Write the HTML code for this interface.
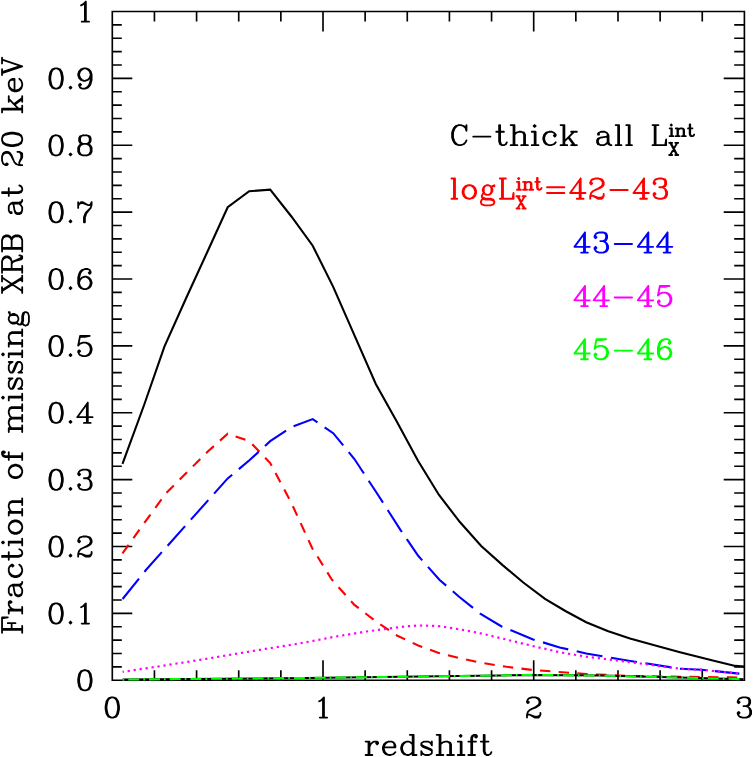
<!DOCTYPE html>
<html><head><meta charset="utf-8"><title>plot</title>
<style>html,body{margin:0;padding:0;background:#fff;font-family:"Liberation Sans",sans-serif}svg{display:block}</style></head>
<body>
<svg width="753" height="757" viewBox="0 0 753 757">
<rect width="753" height="757" fill="#fff"/>
<g fill="none" stroke-linejoin="miter" stroke-miterlimit="6">
<path d="M112.3 11.5H744.4V680.2H112.3Z" stroke="#000" stroke-width="1.65" stroke-linejoin="miter"/>
<path d="M154.44 680.2v-10M154.44 11.5v10M196.58 680.2v-10M196.58 11.5v10M238.72 680.2v-10M238.72 11.5v10M280.86 680.2v-10M280.86 11.5v10M323 680.2v-20M323 11.5v20M365.14 680.2v-10M365.14 11.5v10M407.28 680.2v-10M407.28 11.5v10M449.42 680.2v-10M449.42 11.5v10M491.56 680.2v-10M491.56 11.5v10M533.7 680.2v-20M533.7 11.5v20M575.84 680.2v-10M575.84 11.5v10M617.98 680.2v-10M617.98 11.5v10M660.12 680.2v-10M660.12 11.5v10M702.26 680.2v-10M702.26 11.5v10M112.3 666.83h9.5M744.4 666.83h-10.2M112.3 653.45h9.5M744.4 653.45h-10.2M112.3 640.08h9.5M744.4 640.08h-10.2M112.3 626.7h9.5M744.4 626.7h-10.2M112.3 613.33h20M744.4 613.33h-20.7M112.3 599.96h9.5M744.4 599.96h-10.2M112.3 586.58h9.5M744.4 586.58h-10.2M112.3 573.21h9.5M744.4 573.21h-10.2M112.3 559.83h9.5M744.4 559.83h-10.2M112.3 546.46h20M744.4 546.46h-20.7M112.3 533.09h9.5M744.4 533.09h-10.2M112.3 519.71h9.5M744.4 519.71h-10.2M112.3 506.34h9.5M744.4 506.34h-10.2M112.3 492.96h9.5M744.4 492.96h-10.2M112.3 479.59h20M744.4 479.59h-20.7M112.3 466.22h9.5M744.4 466.22h-10.2M112.3 452.84h9.5M744.4 452.84h-10.2M112.3 439.47h9.5M744.4 439.47h-10.2M112.3 426.09h9.5M744.4 426.09h-10.2M112.3 412.72h20M744.4 412.72h-20.7M112.3 399.35h9.5M744.4 399.35h-10.2M112.3 385.97h9.5M744.4 385.97h-10.2M112.3 372.6h9.5M744.4 372.6h-10.2M112.3 359.22h9.5M744.4 359.22h-10.2M112.3 345.85h20M744.4 345.85h-20.7M112.3 332.48h9.5M744.4 332.48h-10.2M112.3 319.1h9.5M744.4 319.1h-10.2M112.3 305.73h9.5M744.4 305.73h-10.2M112.3 292.35h9.5M744.4 292.35h-10.2M112.3 278.98h20M744.4 278.98h-20.7M112.3 265.61h9.5M744.4 265.61h-10.2M112.3 252.23h9.5M744.4 252.23h-10.2M112.3 238.86h9.5M744.4 238.86h-10.2M112.3 225.48h9.5M744.4 225.48h-10.2M112.3 212.11h20M744.4 212.11h-20.7M112.3 198.74h9.5M744.4 198.74h-10.2M112.3 185.36h9.5M744.4 185.36h-10.2M112.3 171.99h9.5M744.4 171.99h-10.2M112.3 158.61h9.5M744.4 158.61h-10.2M112.3 145.24h20M744.4 145.24h-20.7M112.3 131.87h9.5M744.4 131.87h-10.2M112.3 118.49h9.5M744.4 118.49h-10.2M112.3 105.12h9.5M744.4 105.12h-10.2M112.3 91.74h9.5M744.4 91.74h-10.2M112.3 78.37h20M744.4 78.37h-20.7M112.3 65h9.5M744.4 65h-10.2M112.3 51.62h9.5M744.4 51.62h-10.2M112.3 38.25h9.5M744.4 38.25h-10.2M112.3 24.87h9.5M744.4 24.87h-10.2" stroke="#000" stroke-width="1.65" stroke-linecap="butt"/>
<path d="M122.5 463.8L144.1 405L164.4 346.6L186.2 298L207.3 252L227.7 207.2L249.2 191.2L270.2 189.7L291.4 216.5L312.7 245.7L333.2 286.9L354.8 336.2L375.8 384L396.9 421.8L418 460.8L439 495L460.1 522.3L481.2 546L502.6 565.1L523.3 582.5L545 598.8L565.4 611L586.2 622.2L607.6 631L630 638.6L655.3 645.5L680 652.2L712.8 660.5L735.3 665.9L744.4 666.5" stroke="#000" stroke-width="2.1"/>
<path d="M122.5 553.3L144.5 522.7L165.8 493.5L187 472.3L207 452.3L227.7 433.7L249.4 441.2L270.2 463L291.4 503L312 547.8L331.9 579.7L354.4 604.9L377 622.2L396.9 635.5L418.2 645.5L438.1 652.7L459.4 658L480.6 662.7L506.6 666.8L533.1 670L586.2 674L628.7 675.9L680 676.8L731 677.4L744 677.6" stroke="#f00" stroke-width="2.1" stroke-dasharray="10.4 8.3" stroke-dashoffset="0"/>
<path d="M122.6 599L145.9 570L227.7 478.4L249.4 460.3L270.2 441.2L291.4 427.1L312.7 419.1L333.2 433.2L354.4 459L375.8 491.5L400.9 530.6L418.2 555.8L439.4 579.7L459.4 597L480.6 614L501.2 626.2L533.1 639.4L559.7 647.4L586.2 653.5L628.7 660.7L680 668.7L702.1 669.8L739.3 673.6" stroke="#00f" stroke-width="2.1" stroke-dasharray="26.2 8.7" stroke-dashoffset="0"/>
<path d="M122.6 671.9L163 665.7L200 659.9L260 649.8L300 643.4L334.5 636.8L366.4 631.5L387.6 628.7L406.2 626.3L419.5 625.5L438.1 626L459.4 629.3L480.6 633.3L506.6 639.6L533.1 646.1L559.7 652.2L586.2 656.7L628.7 662L680 668.7L702.1 669.8L739.3 673.6" stroke="#f0f" stroke-width="2.2" stroke-linecap="butt" stroke-dasharray="2.2 3.84" stroke-dashoffset="0.95"/>
<path d="M122.6 679.6L308 677.9L420 676.6L500 675.4L533 674.9L600 675.6L680 677.6L744 679.2" stroke="#000" stroke-width="2.0"/>
<path d="M122.6 679.6L308 677.9L420 676.6L500 675.4L533 674.9L600 675.6L680 677.6L744 679.2" stroke="#0f0" stroke-width="2.1" stroke-dasharray="1.7 4 11 4" stroke-dashoffset="0"/>
</g>
<path d="M83.94 670.24L81.06 671.2L79.14 674.08L78.18 678.88L78.18 681.76L79.14 686.56L81.06 689.44L83.94 690.4L85.86 690.4L88.74 689.44L90.66 686.56L91.62 681.76L91.62 678.88L90.66 674.08L88.74 671.2L85.86 670.24L83.94 670.24M83.94 670.24L82.02 671.2L81.06 672.16L80.1 674.08L79.14 678.88L79.14 681.76L80.1 686.56L81.06 688.48L82.02 689.44L83.94 690.4M85.86 690.4L87.78 689.44L88.74 688.48L89.7 686.56L90.66 681.76L90.66 678.88L89.7 674.08L88.74 672.16L87.78 671.2L85.86 670.24M55.14 603.37L52.26 604.33L50.34 607.21L49.38 612.01L49.38 614.89L50.34 619.69L52.26 622.57L55.14 623.53L57.06 623.53L59.94 622.57L61.86 619.69L62.82 614.89L62.82 612.01L61.86 607.21L59.94 604.33L57.06 603.37L55.14 603.37M55.14 603.37L53.22 604.33L52.26 605.29L51.3 607.21L50.34 612.01L50.34 614.89L51.3 619.69L52.26 621.61L53.22 622.57L55.14 623.53M57.06 623.53L58.98 622.57L59.94 621.61L60.9 619.69L61.86 614.89L61.86 612.01L60.9 607.21L59.94 605.29L58.98 604.33L57.06 603.37M70.5 621.61L69.54 622.57L70.5 623.53L71.46 622.57L70.5 621.61M70.5 622.57L70.5 622.57M81.06 607.21L82.98 606.25L85.86 603.37L85.86 623.53M84.9 604.33L84.9 623.53M81.73 623.53L89.03 623.53M55.14 536.5L52.26 537.46L50.34 540.34L49.38 545.14L49.38 548.02L50.34 552.82L52.26 555.7L55.14 556.66L57.06 556.66L59.94 555.7L61.86 552.82L62.82 548.02L62.82 545.14L61.86 540.34L59.94 537.46L57.06 536.5L55.14 536.5M55.14 536.5L53.22 537.46L52.26 538.42L51.3 540.34L50.34 545.14L50.34 548.02L51.3 552.82L52.26 554.74L53.22 555.7L55.14 556.66M57.06 556.66L58.98 555.7L59.94 554.74L60.9 552.82L61.86 548.02L61.86 545.14L60.9 540.34L59.94 538.42L58.98 537.46L57.06 536.5M70.5 554.74L69.54 555.7L70.5 556.66L71.46 555.7L70.5 554.74M70.5 555.7L70.5 555.7M79.14 540.34L80.1 541.3L79.14 542.26L78.18 541.3L78.18 540.34L79.14 538.42L80.1 537.46L82.98 536.5L86.82 536.5L89.7 537.46L90.66 538.42L91.62 540.34L91.62 542.26L90.66 544.18L87.78 546.1L82.98 548.02L81.06 548.98L79.14 550.9L78.18 553.78L78.18 556.66M86.82 536.5L88.74 537.46L89.7 538.42L90.66 540.34L90.66 542.26L89.7 544.18L86.82 546.1L82.98 548.02M78.18 554.74L79.14 553.78L81.06 553.78L85.86 555.7L88.74 555.7L90.66 554.74L91.62 553.78M81.06 553.78L85.86 556.66L89.7 556.66L90.66 555.7L91.62 553.78L91.62 551.86M55.14 469.63L52.26 470.59L50.34 473.47L49.38 478.27L49.38 481.15L50.34 485.95L52.26 488.83L55.14 489.79L57.06 489.79L59.94 488.83L61.86 485.95L62.82 481.15L62.82 478.27L61.86 473.47L59.94 470.59L57.06 469.63L55.14 469.63M55.14 469.63L53.22 470.59L52.26 471.55L51.3 473.47L50.34 478.27L50.34 481.15L51.3 485.95L52.26 487.87L53.22 488.83L55.14 489.79M57.06 489.79L58.98 488.83L59.94 487.87L60.9 485.95L61.86 481.15L61.86 478.27L60.9 473.47L59.94 471.55L58.98 470.59L57.06 469.63M70.5 487.87L69.54 488.83L70.5 489.79L71.46 488.83L70.5 487.87M70.5 488.83L70.5 488.83M79.14 473.47L80.1 474.43L79.14 475.39L78.18 474.43L78.18 473.47L79.14 471.55L80.1 470.59L82.98 469.63L86.82 469.63L89.7 470.59L90.66 472.51L90.66 475.39L89.7 477.31L86.82 478.27L83.94 478.27M86.82 469.63L88.74 470.59L89.7 472.51L89.7 475.39L88.74 477.31L86.82 478.27M86.82 478.27L88.74 479.23L90.66 481.15L91.62 483.07L91.62 485.95L90.66 487.87L89.7 488.83L86.82 489.79L82.98 489.79L80.1 488.83L79.14 487.87L78.18 485.95L78.18 484.99L79.14 484.03L80.1 484.99L79.14 485.95M89.7 480.19L90.66 483.07L90.66 485.95L89.7 487.87L88.74 488.83L86.82 489.79M55.14 402.76L52.26 403.72L50.34 406.6L49.38 411.4L49.38 414.28L50.34 419.08L52.26 421.96L55.14 422.92L57.06 422.92L59.94 421.96L61.86 419.08L62.82 414.28L62.82 411.4L61.86 406.6L59.94 403.72L57.06 402.76L55.14 402.76M55.14 402.76L53.22 403.72L52.26 404.68L51.3 406.6L50.34 411.4L50.34 414.28L51.3 419.08L52.26 421L53.22 421.96L55.14 422.92M57.06 422.92L58.98 421.96L59.94 421L60.9 419.08L61.86 414.28L61.86 411.4L60.9 406.6L59.94 404.68L58.98 403.72L57.06 402.76M70.5 421L69.54 421.96L70.5 422.92L71.46 421.96L70.5 421M70.5 421.96L70.5 421.96M86.82 404.68L86.82 422.92M87.78 402.76L87.78 422.92M87.78 402.76L77.22 417.16L92.58 417.16M83.94 422.92L90.66 422.92M55.14 335.89L52.26 336.85L50.34 339.73L49.38 344.53L49.38 347.41L50.34 352.21L52.26 355.09L55.14 356.05L57.06 356.05L59.94 355.09L61.86 352.21L62.82 347.41L62.82 344.53L61.86 339.73L59.94 336.85L57.06 335.89L55.14 335.89M55.14 335.89L53.22 336.85L52.26 337.81L51.3 339.73L50.34 344.53L50.34 347.41L51.3 352.21L52.26 354.13L53.22 355.09L55.14 356.05M57.06 356.05L58.98 355.09L59.94 354.13L60.9 352.21L61.86 347.41L61.86 344.53L60.9 339.73L59.94 337.81L58.98 336.85L57.06 335.89M70.5 354.13L69.54 355.09L70.5 356.05L71.46 355.09L70.5 354.13M70.5 355.09L70.5 355.09M80.1 335.89L78.18 345.49M78.18 345.49L80.1 343.57L82.98 342.61L85.86 342.61L88.74 343.57L90.66 345.49L91.62 348.37L91.62 350.29L90.66 353.17L88.74 355.09L85.86 356.05L82.98 356.05L80.1 355.09L79.14 354.13L78.18 352.21L78.18 351.25L79.14 350.29L80.1 351.25L79.14 352.21M85.86 342.61L87.78 343.57L89.7 345.49L90.66 348.37L90.66 350.29L89.7 353.17L87.78 355.09L85.86 356.05M80.1 335.89L89.7 335.89M80.1 336.85L84.9 336.85L89.7 335.89M55.14 269.02L52.26 269.98L50.34 272.86L49.38 277.66L49.38 280.54L50.34 285.34L52.26 288.22L55.14 289.18L57.06 289.18L59.94 288.22L61.86 285.34L62.82 280.54L62.82 277.66L61.86 272.86L59.94 269.98L57.06 269.02L55.14 269.02M55.14 269.02L53.22 269.98L52.26 270.94L51.3 272.86L50.34 277.66L50.34 280.54L51.3 285.34L52.26 287.26L53.22 288.22L55.14 289.18M57.06 289.18L58.98 288.22L59.94 287.26L60.9 285.34L61.86 280.54L61.86 277.66L60.9 272.86L59.94 270.94L58.98 269.98L57.06 269.02M70.5 287.26L69.54 288.22L70.5 289.18L71.46 288.22L70.5 287.26M70.5 288.22L70.5 288.22M89.7 271.9L88.74 272.86L89.7 273.82L90.66 272.86L90.66 271.9L89.7 269.98L87.78 269.02L84.9 269.02L82.02 269.98L80.1 271.9L79.14 273.82L78.18 277.66L78.18 283.42L79.14 286.3L81.06 288.22L83.94 289.18L85.86 289.18L88.74 288.22L90.66 286.3L91.62 283.42L91.62 282.46L90.66 279.58L88.74 277.66L85.86 276.7L84.9 276.7L82.02 277.66L80.1 279.58L79.14 282.46M84.9 269.02L82.98 269.98L81.06 271.9L80.1 273.82L79.14 277.66L79.14 283.42L80.1 286.3L82.02 288.22L83.94 289.18M85.86 289.18L87.78 288.22L89.7 286.3L90.66 283.42L90.66 282.46L89.7 279.58L87.78 277.66L85.86 276.7M55.14 202.15L52.26 203.11L50.34 205.99L49.38 210.79L49.38 213.67L50.34 218.47L52.26 221.35L55.14 222.31L57.06 222.31L59.94 221.35L61.86 218.47L62.82 213.67L62.82 210.79L61.86 205.99L59.94 203.11L57.06 202.15L55.14 202.15M55.14 202.15L53.22 203.11L52.26 204.07L51.3 205.99L50.34 210.79L50.34 213.67L51.3 218.47L52.26 220.39L53.22 221.35L55.14 222.31M57.06 222.31L58.98 221.35L59.94 220.39L60.9 218.47L61.86 213.67L61.86 210.79L60.9 205.99L59.94 204.07L58.98 203.11L57.06 202.15M70.5 220.39L69.54 221.35L70.5 222.31L71.46 221.35L70.5 220.39M70.5 221.35L70.5 221.35M78.18 202.15L78.18 207.91M78.18 205.99L79.14 204.07L81.06 202.15L82.98 202.15L87.78 205.03L89.7 205.03L90.66 204.07L91.62 202.15M79.14 204.07L81.06 203.11L82.98 203.11L87.78 205.03M91.62 202.15L91.62 205.03L90.66 207.91L86.82 212.71L85.86 214.63L84.9 217.51L84.9 222.31M90.66 207.91L85.86 212.71L84.9 214.63L83.94 217.51L83.94 222.31M55.14 135.28L52.26 136.24L50.34 139.12L49.38 143.92L49.38 146.8L50.34 151.6L52.26 154.48L55.14 155.44L57.06 155.44L59.94 154.48L61.86 151.6L62.82 146.8L62.82 143.92L61.86 139.12L59.94 136.24L57.06 135.28L55.14 135.28M55.14 135.28L53.22 136.24L52.26 137.2L51.3 139.12L50.34 143.92L50.34 146.8L51.3 151.6L52.26 153.52L53.22 154.48L55.14 155.44M57.06 155.44L58.98 154.48L59.94 153.52L60.9 151.6L61.86 146.8L61.86 143.92L60.9 139.12L59.94 137.2L58.98 136.24L57.06 135.28M70.5 153.52L69.54 154.48L70.5 155.44L71.46 154.48L70.5 153.52M70.5 154.48L70.5 154.48M82.98 135.28L80.1 136.24L79.14 138.16L79.14 141.04L80.1 142.96L82.98 143.92L86.82 143.92L89.7 142.96L90.66 141.04L90.66 138.16L89.7 136.24L86.82 135.28L82.98 135.28M82.98 135.28L81.06 136.24L80.1 138.16L80.1 141.04L81.06 142.96L82.98 143.92M86.82 143.92L88.74 142.96L89.7 141.04L89.7 138.16L88.74 136.24L86.82 135.28M82.98 143.92L80.1 144.88L79.14 145.84L78.18 147.76L78.18 151.6L79.14 153.52L80.1 154.48L82.98 155.44L86.82 155.44L89.7 154.48L90.66 153.52L91.62 151.6L91.62 147.76L90.66 145.84L89.7 144.88L86.82 143.92M82.98 143.92L81.06 144.88L80.1 145.84L79.14 147.76L79.14 151.6L80.1 153.52L81.06 154.48L82.98 155.44M86.82 155.44L88.74 154.48L89.7 153.52L90.66 151.6L90.66 147.76L89.7 145.84L88.74 144.88L86.82 143.92M55.14 68.41L52.26 69.37L50.34 72.25L49.38 77.05L49.38 79.93L50.34 84.73L52.26 87.61L55.14 88.57L57.06 88.57L59.94 87.61L61.86 84.73L62.82 79.93L62.82 77.05L61.86 72.25L59.94 69.37L57.06 68.41L55.14 68.41M55.14 68.41L53.22 69.37L52.26 70.33L51.3 72.25L50.34 77.05L50.34 79.93L51.3 84.73L52.26 86.65L53.22 87.61L55.14 88.57M57.06 88.57L58.98 87.61L59.94 86.65L60.9 84.73L61.86 79.93L61.86 77.05L60.9 72.25L59.94 70.33L58.98 69.37L57.06 68.41M70.5 86.65L69.54 87.61L70.5 88.57L71.46 87.61L70.5 86.65M70.5 87.61L70.5 87.61M90.66 75.13L89.7 78.01L87.78 79.93L84.9 80.89L83.94 80.89L81.06 79.93L79.14 78.01L78.18 75.13L78.18 74.17L79.14 71.29L81.06 69.37L83.94 68.41L85.86 68.41L88.74 69.37L90.66 71.29L91.62 74.17L91.62 79.93L90.66 83.77L89.7 85.69L87.78 87.61L84.9 88.57L82.02 88.57L80.1 87.61L79.14 85.69L79.14 84.73L80.1 83.77L81.06 84.73L80.1 85.69M83.94 80.89L82.02 79.93L80.1 78.01L79.14 75.13L79.14 74.17L80.1 71.29L82.02 69.37L83.94 68.41M85.86 68.41L87.78 69.37L89.7 71.29L90.66 74.17L90.66 79.93L89.7 83.77L88.74 85.69L86.82 87.61L84.9 88.57M81.06 5.38L82.98 4.42L85.86 1.54L85.86 21.7M84.9 2.5L84.9 21.7M81.73 21.7L89.03 21.7M111.34 697.44L108.46 698.4L106.54 701.28L105.58 706.08L105.58 708.96L106.54 713.76L108.46 716.64L111.34 717.6L113.26 717.6L116.14 716.64L118.06 713.76L119.02 708.96L119.02 706.08L118.06 701.28L116.14 698.4L113.26 697.44L111.34 697.44M111.34 697.44L109.42 698.4L108.46 699.36L107.5 701.28L106.54 706.08L106.54 708.96L107.5 713.76L108.46 715.68L109.42 716.64L111.34 717.6M113.26 717.6L115.18 716.64L116.14 715.68L117.1 713.76L118.06 708.96L118.06 706.08L117.1 701.28L116.14 699.36L115.18 698.4L113.26 697.44M319.16 701.28L321.08 700.32L323.96 697.44L323.96 717.6M323 698.4L323 717.6M319.83 717.6L327.13 717.6M527.94 701.28L528.9 702.24L527.94 703.2L526.98 702.24L526.98 701.28L527.94 699.36L528.9 698.4L531.78 697.44L535.62 697.44L538.5 698.4L539.46 699.36L540.42 701.28L540.42 703.2L539.46 705.12L536.58 707.04L531.78 708.96L529.86 709.92L527.94 711.84L526.98 714.72L526.98 717.6M535.62 697.44L537.54 698.4L538.5 699.36L539.46 701.28L539.46 703.2L538.5 705.12L535.62 707.04L531.78 708.96M526.98 715.68L527.94 714.72L529.86 714.72L534.66 716.64L537.54 716.64L539.46 715.68L540.42 714.72M529.86 714.72L534.66 717.6L538.5 717.6L539.46 716.64L540.42 714.72L540.42 712.8M738.64 701.28L739.6 702.24L738.64 703.2L737.68 702.24L737.68 701.28L738.64 699.36L739.6 698.4L742.48 697.44L746.32 697.44L749.2 698.4L750.16 700.32L750.16 703.2L749.2 705.12L746.32 706.08L743.44 706.08M746.32 697.44L748.24 698.4L749.2 700.32L749.2 703.2L748.24 705.12L746.32 706.08M746.32 706.08L748.24 707.04L750.16 708.96L751.12 710.88L751.12 713.76L750.16 715.68L749.2 716.64L746.32 717.6L742.48 717.6L739.6 716.64L738.64 715.68L737.68 713.76L737.68 712.8L738.64 711.84L739.6 712.8L738.64 713.76M749.2 708L750.16 710.88L750.16 713.76L749.2 715.68L748.24 716.64L746.32 717.6M368.5 741.56L368.5 755M369.46 741.56L369.46 755M369.46 747.32L370.42 744.44L372.34 742.52L374.26 741.56L377.14 741.56L378.1 742.52L378.1 743.48L377.14 744.44L376.18 743.48L377.14 742.52M365.62 741.56L369.46 741.56M365.62 755L372.34 755M383.86 747.32L395.38 747.32L395.38 745.4L394.42 743.48L393.46 742.52L391.54 741.56L388.66 741.56L385.78 742.52L383.86 744.44L382.9 747.32L382.9 749.24L383.86 752.12L385.78 754.04L388.66 755L390.58 755L393.46 754.04L395.38 752.12M394.42 747.32L394.42 744.44L393.46 742.52M388.66 741.56L386.74 742.52L384.82 744.44L383.86 747.32L383.86 749.24L384.82 752.12L386.74 754.04L388.66 755M412.66 734.84L412.66 755M413.62 734.84L413.62 755M412.66 744.44L410.74 742.52L408.82 741.56L406.9 741.56L404.02 742.52L402.1 744.44L401.14 747.32L401.14 749.24L402.1 752.12L404.02 754.04L406.9 755L408.82 755L410.74 754.04L412.66 752.12M406.9 741.56L404.98 742.52L403.06 744.44L402.1 747.32L402.1 749.24L403.06 752.12L404.98 754.04L406.9 755M409.78 734.84L413.62 734.84M412.66 755L416.5 755M430.9 743.48L431.86 741.56L431.86 745.4L430.9 743.48L429.94 742.52L428.02 741.56L424.18 741.56L422.26 742.52L421.3 743.48L421.3 745.4L422.26 746.36L424.18 747.32L428.98 749.24L430.9 750.2L431.86 751.16M421.3 744.44L422.26 745.4L424.18 746.36L428.98 748.28L430.9 749.24L431.86 750.2L431.86 753.08L430.9 754.04L428.98 755L425.14 755L423.22 754.04L422.26 753.08L421.3 751.16L421.3 755L422.26 753.08M439.54 734.84L439.54 755M440.5 734.84L440.5 755M440.5 744.44L442.42 742.52L445.3 741.56L447.22 741.56L450.1 742.52L451.06 744.44L451.06 755M447.22 741.56L449.14 742.52L450.1 744.44L450.1 755M436.66 734.84L440.5 734.84M436.66 755L443.38 755M447.22 755L453.94 755M460.66 734.84L459.7 735.8L460.66 736.76L461.62 735.8L460.66 734.84M460.66 741.56L460.66 755M461.62 741.56L461.62 755M457.78 741.56L461.62 741.56M457.78 755L464.5 755M476.02 735.8L475.06 736.76L476.02 737.72L476.98 736.76L476.98 735.8L476.02 734.84L474.1 734.84L472.18 735.8L471.22 737.72L471.22 755M474.1 734.84L473.14 735.8L472.18 737.72L472.18 755M468.34 741.56L476.02 741.56M468.34 755L475.06 755M483.7 734.84L483.7 751.16L484.66 754.04L486.58 755L488.5 755L490.42 754.04L491.38 752.12M484.66 734.84L484.66 751.16L485.62 754.04L486.58 755M480.82 741.56L488.5 741.56" fill="none" stroke="#000" stroke-width="1.8" stroke-linecap="round" stroke-linejoin="round"/>
<path transform="translate(22.2 345.7) rotate(-90)" d="M-284.16 -20.16L-284.16 0M-283.2 -20.16L-283.2 0M-277.44 -14.4L-277.44 -6.72M-287.04 -20.16L-271.68 -20.16L-271.68 -14.4L-272.64 -20.16M-283.2 -10.56L-277.44 -10.56M-287.04 0L-280.32 0M-264.96 -13.44L-264.96 0M-264 -13.44L-264 0M-264 -7.68L-263.04 -10.56L-261.12 -12.48L-259.2 -13.44L-256.32 -13.44L-255.36 -12.48L-255.36 -11.52L-256.32 -10.56L-257.28 -11.52L-256.32 -12.48M-267.84 -13.44L-264 -13.44M-267.84 0L-261.12 0M-248.64 -11.52L-248.64 -10.56L-249.6 -10.56L-249.6 -11.52L-248.64 -12.48L-246.72 -13.44L-242.88 -13.44L-240.96 -12.48L-240 -11.52L-239.04 -9.6L-239.04 -2.88L-238.08 -0.96L-237.12 0M-240 -11.52L-240 -2.88L-239.04 -0.96L-237.12 0L-236.16 0M-240 -9.6L-240.96 -8.64L-246.72 -7.68L-249.6 -6.72L-250.56 -4.8L-250.56 -2.88L-249.6 -0.96L-246.72 0L-243.84 0L-241.92 -0.96L-240 -2.88M-246.72 -7.68L-248.64 -6.72L-249.6 -4.8L-249.6 -2.88L-248.64 -0.96L-246.72 0M-219.84 -10.56L-220.8 -9.6L-219.84 -8.64L-218.88 -9.6L-218.88 -10.56L-220.8 -12.48L-222.72 -13.44L-225.6 -13.44L-228.48 -12.48L-230.4 -10.56L-231.36 -7.68L-231.36 -5.76L-230.4 -2.88L-228.48 -0.96L-225.6 0L-223.68 0L-220.8 -0.96L-218.88 -2.88M-225.6 -13.44L-227.52 -12.48L-229.44 -10.56L-230.4 -7.68L-230.4 -5.76L-229.44 -2.88L-227.52 -0.96L-225.6 0M-211.2 -20.16L-211.2 -3.84L-210.24 -0.96L-208.32 0L-206.4 0L-204.48 -0.96L-203.52 -2.88M-210.24 -20.16L-210.24 -3.84L-209.28 -0.96L-208.32 0M-214.08 -13.44L-206.4 -13.44M-196.8 -20.16L-197.76 -19.2L-196.8 -18.24L-195.84 -19.2L-196.8 -20.16M-196.8 -13.44L-196.8 0M-195.84 -13.44L-195.84 0M-199.68 -13.44L-195.84 -13.44M-199.68 0L-192.96 0M-182.4 -13.44L-185.28 -12.48L-187.2 -10.56L-188.16 -7.68L-188.16 -5.76L-187.2 -2.88L-185.28 -0.96L-182.4 0L-180.48 0L-177.6 -0.96L-175.68 -2.88L-174.72 -5.76L-174.72 -7.68L-175.68 -10.56L-177.6 -12.48L-180.48 -13.44L-182.4 -13.44M-182.4 -13.44L-184.32 -12.48L-186.24 -10.56L-187.2 -7.68L-187.2 -5.76L-186.24 -2.88L-184.32 -0.96L-182.4 0M-180.48 0L-178.56 -0.96L-176.64 -2.88L-175.68 -5.76L-175.68 -7.68L-176.64 -10.56L-178.56 -12.48L-180.48 -13.44M-167.04 -13.44L-167.04 0M-166.08 -13.44L-166.08 0M-166.08 -10.56L-164.16 -12.48L-161.28 -13.44L-159.36 -13.44L-156.48 -12.48L-155.52 -10.56L-155.52 0M-159.36 -13.44L-157.44 -12.48L-156.48 -10.56L-156.48 0M-169.92 -13.44L-166.08 -13.44M-169.92 0L-163.2 0M-159.36 0L-152.64 0M-126.72 -13.44L-129.6 -12.48L-131.52 -10.56L-132.48 -7.68L-132.48 -5.76L-131.52 -2.88L-129.6 -0.96L-126.72 0L-124.8 0L-121.92 -0.96L-120 -2.88L-119.04 -5.76L-119.04 -7.68L-120 -10.56L-121.92 -12.48L-124.8 -13.44L-126.72 -13.44M-126.72 -13.44L-128.64 -12.48L-130.56 -10.56L-131.52 -7.68L-131.52 -5.76L-130.56 -2.88L-128.64 -0.96L-126.72 0M-124.8 0L-122.88 -0.96L-120.96 -2.88L-120 -5.76L-120 -7.68L-120.96 -10.56L-122.88 -12.48L-124.8 -13.44M-106.56 -19.2L-107.52 -18.24L-106.56 -17.28L-105.6 -18.24L-105.6 -19.2L-106.56 -20.16L-108.48 -20.16L-110.4 -19.2L-111.36 -17.28L-111.36 0M-108.48 -20.16L-109.44 -19.2L-110.4 -17.28L-110.4 0M-114.24 -13.44L-106.56 -13.44M-114.24 0L-107.52 0M-83.52 -13.44L-83.52 0M-82.56 -13.44L-82.56 0M-82.56 -10.56L-80.64 -12.48L-77.76 -13.44L-75.84 -13.44L-72.96 -12.48L-72 -10.56L-72 0M-75.84 -13.44L-73.92 -12.48L-72.96 -10.56L-72.96 0M-72 -10.56L-70.08 -12.48L-67.2 -13.44L-65.28 -13.44L-62.4 -12.48L-61.44 -10.56L-61.44 0M-65.28 -13.44L-63.36 -12.48L-62.4 -10.56L-62.4 0M-86.4 -13.44L-82.56 -13.44M-86.4 0L-79.68 0M-75.84 0L-69.12 0M-65.28 0L-58.56 0M-51.84 -20.16L-52.8 -19.2L-51.84 -18.24L-50.88 -19.2L-51.84 -20.16M-51.84 -13.44L-51.84 0M-50.88 -13.44L-50.88 0M-54.72 -13.44L-50.88 -13.44M-54.72 0L-48 0M-33.6 -11.52L-32.64 -13.44L-32.64 -9.6L-33.6 -11.52L-34.56 -12.48L-36.48 -13.44L-40.32 -13.44L-42.24 -12.48L-43.2 -11.52L-43.2 -9.6L-42.24 -8.64L-40.32 -7.68L-35.52 -5.76L-33.6 -4.8L-32.64 -3.84M-43.2 -10.56L-42.24 -9.6L-40.32 -8.64L-35.52 -6.72L-33.6 -5.76L-32.64 -4.8L-32.64 -1.92L-33.6 -0.96L-35.52 0L-39.36 0L-41.28 -0.96L-42.24 -1.92L-43.2 -3.84L-43.2 0L-42.24 -1.92M-17.28 -11.52L-16.32 -13.44L-16.32 -9.6L-17.28 -11.52L-18.24 -12.48L-20.16 -13.44L-24 -13.44L-25.92 -12.48L-26.88 -11.52L-26.88 -9.6L-25.92 -8.64L-24 -7.68L-19.2 -5.76L-17.28 -4.8L-16.32 -3.84M-26.88 -10.56L-25.92 -9.6L-24 -8.64L-19.2 -6.72L-17.28 -5.76L-16.32 -4.8L-16.32 -1.92L-17.28 -0.96L-19.2 0L-23.04 0L-24.96 -0.96L-25.92 -1.92L-26.88 -3.84L-26.88 0L-25.92 -1.92M-8.64 -20.16L-9.6 -19.2L-8.64 -18.24L-7.68 -19.2L-8.64 -20.16M-8.64 -13.44L-8.64 0M-7.68 -13.44L-7.68 0M-11.52 -13.44L-7.68 -13.44M-11.52 0L-4.8 0M1.92 -13.44L1.92 0M2.88 -13.44L2.88 0M2.88 -10.56L4.8 -12.48L7.68 -13.44L9.6 -13.44L12.48 -12.48L13.44 -10.56L13.44 0M9.6 -13.44L11.52 -12.48L12.48 -10.56L12.48 0M-0.96 -13.44L2.88 -13.44M-0.96 0L5.76 0M9.6 0L16.32 0M25.92 -13.44L24 -12.48L23.04 -11.52L22.08 -9.6L22.08 -7.68L23.04 -5.76L24 -4.8L25.92 -3.84L27.84 -3.84L29.76 -4.8L30.72 -5.76L31.68 -7.68L31.68 -9.6L30.72 -11.52L29.76 -12.48L27.84 -13.44L25.92 -13.44M24 -12.48L23.04 -10.56L23.04 -6.72L24 -4.8M29.76 -4.8L30.72 -6.72L30.72 -10.56L29.76 -12.48M30.72 -11.52L31.68 -12.48L33.6 -13.44L33.6 -12.48L31.68 -12.48M23.04 -5.76L22.08 -4.8L21.12 -2.88L21.12 -1.92L22.08 0L24.96 0.96L29.76 0.96L32.64 1.92L33.6 2.88M21.12 -1.92L22.08 -0.96L24.96 0L29.76 0L32.64 0.96L33.6 2.88L33.6 3.84L32.64 5.76L29.76 6.72L24 6.72L21.12 5.76L20.16 3.84L20.16 2.88L21.12 0.96L24 0M54.72 -20.16L67.2 0M55.68 -20.16L68.16 0M68.16 -20.16L54.72 0M52.8 -20.16L58.56 -20.16M64.32 -20.16L70.08 -20.16M52.8 0L58.56 0M64.32 0L70.08 0M75.84 -20.16L75.84 0M76.8 -20.16L76.8 0M72.96 -20.16L84.48 -20.16L87.36 -19.2L88.32 -18.24L89.28 -16.32L89.28 -14.4L88.32 -12.48L87.36 -11.52L84.48 -10.56L76.8 -10.56M84.48 -20.16L86.4 -19.2L87.36 -18.24L88.32 -16.32L88.32 -14.4L87.36 -12.48L86.4 -11.52L84.48 -10.56M72.96 0L79.68 0M81.6 -10.56L83.52 -9.6L84.48 -8.64L87.36 -1.92L88.32 -0.96L89.28 -0.96L90.24 -1.92M83.52 -9.6L84.48 -7.68L86.4 -0.96L87.36 0L89.28 0L90.24 -1.92L90.24 -2.88M96.96 -20.16L96.96 0M97.92 -20.16L97.92 0M94.08 -20.16L105.6 -20.16L108.48 -19.2L109.44 -18.24L110.4 -16.32L110.4 -14.4L109.44 -12.48L108.48 -11.52L105.6 -10.56M105.6 -20.16L107.52 -19.2L108.48 -18.24L109.44 -16.32L109.44 -14.4L108.48 -12.48L107.52 -11.52L105.6 -10.56M97.92 -10.56L105.6 -10.56L108.48 -9.6L109.44 -8.64L110.4 -6.72L110.4 -3.84L109.44 -1.92L108.48 -0.96L105.6 0L94.08 0M105.6 -10.56L107.52 -9.6L108.48 -8.64L109.44 -6.72L109.44 -3.84L108.48 -1.92L107.52 -0.96L105.6 0M133.44 -11.52L133.44 -10.56L132.48 -10.56L132.48 -11.52L133.44 -12.48L135.36 -13.44L139.2 -13.44L141.12 -12.48L142.08 -11.52L143.04 -9.6L143.04 -2.88L144 -0.96L144.96 0M142.08 -11.52L142.08 -2.88L143.04 -0.96L144.96 0L145.92 0M142.08 -9.6L141.12 -8.64L135.36 -7.68L132.48 -6.72L131.52 -4.8L131.52 -2.88L132.48 -0.96L135.36 0L138.24 0L140.16 -0.96L142.08 -2.88M135.36 -7.68L133.44 -6.72L132.48 -4.8L132.48 -2.88L133.44 -0.96L135.36 0M152.64 -20.16L152.64 -3.84L153.6 -0.96L155.52 0L157.44 0L159.36 -0.96L160.32 -2.88M153.6 -20.16L153.6 -3.84L154.56 -0.96L155.52 0M149.76 -13.44L157.44 -13.44M181.44 -16.32L182.4 -15.36L181.44 -14.4L180.48 -15.36L180.48 -16.32L181.44 -18.24L182.4 -19.2L185.28 -20.16L189.12 -20.16L192 -19.2L192.96 -18.24L193.92 -16.32L193.92 -14.4L192.96 -12.48L190.08 -10.56L185.28 -8.64L183.36 -7.68L181.44 -5.76L180.48 -2.88L180.48 0M189.12 -20.16L191.04 -19.2L192 -18.24L192.96 -16.32L192.96 -14.4L192 -12.48L189.12 -10.56L185.28 -8.64M180.48 -1.92L181.44 -2.88L183.36 -2.88L188.16 -0.96L191.04 -0.96L192.96 -1.92L193.92 -2.88M183.36 -2.88L188.16 0L192 0L192.96 -0.96L193.92 -2.88L193.92 -4.8M205.44 -20.16L202.56 -19.2L200.64 -16.32L199.68 -11.52L199.68 -8.64L200.64 -3.84L202.56 -0.96L205.44 0L207.36 0L210.24 -0.96L212.16 -3.84L213.12 -8.64L213.12 -11.52L212.16 -16.32L210.24 -19.2L207.36 -20.16L205.44 -20.16M205.44 -20.16L203.52 -19.2L202.56 -18.24L201.6 -16.32L200.64 -11.52L200.64 -8.64L201.6 -3.84L202.56 -1.92L203.52 -0.96L205.44 0M207.36 0L209.28 -0.96L210.24 -1.92L211.2 -3.84L212.16 -8.64L212.16 -11.52L211.2 -16.32L210.24 -18.24L209.28 -19.2L207.36 -20.16M236.16 -20.16L236.16 0M237.12 -20.16L237.12 0M246.72 -13.44L237.12 -3.84M241.92 -7.68L247.68 0M240.96 -7.68L246.72 0M233.28 -20.16L237.12 -20.16M243.84 -13.44L249.6 -13.44M233.28 0L240 0M243.84 0L249.6 0M255.36 -7.68L266.88 -7.68L266.88 -9.6L265.92 -11.52L264.96 -12.48L263.04 -13.44L260.16 -13.44L257.28 -12.48L255.36 -10.56L254.4 -7.68L254.4 -5.76L255.36 -2.88L257.28 -0.96L260.16 0L262.08 0L264.96 -0.96L266.88 -2.88M265.92 -7.68L265.92 -10.56L264.96 -12.48M260.16 -13.44L258.24 -12.48L256.32 -10.56L255.36 -7.68L255.36 -5.76L256.32 -2.88L258.24 -0.96L260.16 0M272.64 -20.16L279.36 0M273.6 -20.16L279.36 -2.88M286.08 -20.16L279.36 0M270.72 -20.16L276.48 -20.16M282.24 -20.16L288 -20.16" fill="none" stroke="#000" stroke-width="1.8" stroke-linecap="round" stroke-linejoin="round"/>
<path d="M465.52 127.92L466.48 130.8L466.48 125.04L465.52 127.92L463.6 126L460.72 125.04L458.8 125.04L455.92 126L454 127.92L453.04 129.84L452.08 132.72L452.08 137.52L453.04 140.4L454 142.32L455.92 144.24L458.8 145.2L460.72 145.2L463.6 144.24L465.52 142.32L466.48 140.4M458.8 125.04L456.88 126L454.96 127.92L454 129.84L453.04 132.72L453.04 137.52L454 140.4L454.96 142.32L456.88 144.24L458.8 145.2M473.2 136.56L490.48 136.56M499.12 125.04L499.12 141.36L500.08 144.24L502 145.2L503.92 145.2L505.84 144.24L506.8 142.32M500.08 125.04L500.08 141.36L501.04 144.24L502 145.2M496.24 131.76L503.92 131.76M513.52 125.04L513.52 145.2M514.48 125.04L514.48 145.2M514.48 134.64L516.4 132.72L519.28 131.76L521.2 131.76L524.08 132.72L525.04 134.64L525.04 145.2M521.2 131.76L523.12 132.72L524.08 134.64L524.08 145.2M510.64 125.04L514.48 125.04M510.64 145.2L517.36 145.2M521.2 145.2L527.92 145.2M534.64 125.04L533.68 126L534.64 126.96L535.6 126L534.64 125.04M534.64 131.76L534.64 145.2M535.6 131.76L535.6 145.2M531.76 131.76L535.6 131.76M531.76 145.2L538.48 145.2M554.8 134.64L553.84 135.6L554.8 136.56L555.76 135.6L555.76 134.64L553.84 132.72L551.92 131.76L549.04 131.76L546.16 132.72L544.24 134.64L543.28 137.52L543.28 139.44L544.24 142.32L546.16 144.24L549.04 145.2L550.96 145.2L553.84 144.24L555.76 142.32M549.04 131.76L547.12 132.72L545.2 134.64L544.24 137.52L544.24 139.44L545.2 142.32L547.12 144.24L549.04 145.2M563.44 125.04L563.44 145.2M564.4 125.04L564.4 145.2M574 131.76L564.4 141.36M569.2 137.52L574.96 145.2M568.24 137.52L574 145.2M560.56 125.04L564.4 125.04M571.12 131.76L576.88 131.76M560.56 145.2L567.28 145.2M571.12 145.2L576.88 145.2M598.96 133.68L598.96 134.64L598 134.64L598 133.68L598.96 132.72L600.88 131.76L604.72 131.76L606.64 132.72L607.6 133.68L608.56 135.6L608.56 142.32L609.52 144.24L610.48 145.2M607.6 133.68L607.6 142.32L608.56 144.24L610.48 145.2L611.44 145.2M607.6 135.6L606.64 136.56L600.88 137.52L598 138.48L597.04 140.4L597.04 142.32L598 144.24L600.88 145.2L603.76 145.2L605.68 144.24L607.6 142.32M600.88 137.52L598.96 138.48L598 140.4L598 142.32L598.96 144.24L600.88 145.2M618.16 125.04L618.16 145.2M619.12 125.04L619.12 145.2M615.66 125.04L619.12 125.04M615.66 145.2L621.42 145.2M628.72 125.04L628.72 145.2M629.68 125.04L629.68 145.2M626.22 125.04L629.68 125.04M626.22 145.2L631.98 145.2M654.64 125.04L654.64 145.2M655.6 125.04L655.6 145.2M652.53 125.04L658.48 125.04M652.53 145.2L666.16 145.2L666.16 139.44L665.2 145.2M670.19 142.8L676.76 155M670.7 142.8L677.27 155M677.27 142.8L670.19 155M669.18 142.8L672.21 142.8M675.24 142.8L678.28 142.8M669.18 155L672.21 155M675.24 155L678.28 155M671.3 124.51L670.75 125.06L671.3 125.62L671.86 125.06L671.3 124.51M671.3 128.4L671.3 136.2M671.86 128.4L671.86 136.2M669.63 128.4L671.86 128.4M669.63 136.2L673.53 136.2M677.43 128.4L677.43 136.2M677.99 128.4L677.99 136.2M677.99 130.08L679.1 128.96L680.77 128.4L681.88 128.4L683.55 128.96L684.11 130.08L684.11 136.2M681.88 128.4L683 128.96L683.55 130.08L683.55 136.2M675.76 128.4L677.99 128.4M675.76 136.2L679.66 136.2M681.88 136.2L685.78 136.2M689.68 124.51L689.68 133.97L690.24 135.64L691.35 136.2L692.46 136.2L693.58 135.64L694.13 134.53M690.24 124.51L690.24 133.97L690.79 135.64L691.35 136.2M688.01 128.4L692.46 128.4" fill="none" stroke="#000" stroke-width="1.8" stroke-linecap="round" stroke-linejoin="round"/>
<path d="M454 178.54L454 198.7M454.96 178.54L454.96 198.7M451.5 178.54L454.96 178.54M451.5 198.7L457.26 198.7M468.4 185.26L465.52 186.22L463.6 188.14L462.64 191.02L462.64 192.94L463.6 195.82L465.52 197.74L468.4 198.7L470.32 198.7L473.2 197.74L475.12 195.82L476.08 192.94L476.08 191.02L475.12 188.14L473.2 186.22L470.32 185.26L468.4 185.26M468.4 185.26L466.48 186.22L464.56 188.14L463.6 191.02L463.6 192.94L464.56 195.82L466.48 197.74L468.4 198.7M470.32 198.7L472.24 197.74L474.16 195.82L475.12 192.94L475.12 191.02L474.16 188.14L472.24 186.22L470.32 185.26M486.64 185.26L484.72 186.22L483.76 187.18L482.8 189.1L482.8 191.02L483.76 192.94L484.72 193.9L486.64 194.86L488.56 194.86L490.48 193.9L491.44 192.94L492.4 191.02L492.4 189.1L491.44 187.18L490.48 186.22L488.56 185.26L486.64 185.26M484.72 186.22L483.76 188.14L483.76 191.98L484.72 193.9M490.48 193.9L491.44 191.98L491.44 188.14L490.48 186.22M491.44 187.18L492.4 186.22L494.32 185.26L494.32 186.22L492.4 186.22M483.76 192.94L482.8 193.9L481.84 195.82L481.84 196.78L482.8 198.7L485.68 199.66L490.48 199.66L493.36 200.62L494.32 201.58M481.84 196.78L482.8 197.74L485.68 198.7L490.48 198.7L493.36 199.66L494.32 201.58L494.32 202.54L493.36 204.46L490.48 205.42L484.72 205.42L481.84 204.46L480.88 202.54L480.88 201.58L481.84 199.66L484.72 198.7M502 178.54L502 198.7M502.96 178.54L502.96 198.7M499.89 178.54L505.84 178.54M499.89 198.7L513.52 198.7L513.52 192.94L512.56 198.7M517.55 196.3L524.12 208.5M518.06 196.3L524.63 208.5M524.63 196.3L517.55 208.5M516.54 196.3L519.57 196.3M522.6 196.3L525.64 196.3M516.54 208.5L519.57 208.5M522.6 208.5L525.64 208.5M518.66 178.01L518.11 178.56L518.66 179.12L519.22 178.56L518.66 178.01M518.66 181.9L518.66 189.7M519.22 181.9L519.22 189.7M516.99 181.9L519.22 181.9M516.99 189.7L520.89 189.7M524.79 181.9L524.79 189.7M525.35 181.9L525.35 189.7M525.35 183.58L526.46 182.46L528.13 181.9L529.24 181.9L530.91 182.46L531.47 183.58L531.47 189.7M529.24 181.9L530.36 182.46L530.91 183.58L530.91 189.7M523.12 181.9L525.35 181.9M523.12 189.7L527.02 189.7M529.24 189.7L533.14 189.7M537.04 178.01L537.04 187.47L537.6 189.14L538.71 189.7L539.82 189.7L540.94 189.14L541.49 188.03M537.6 178.01L537.6 187.47L538.15 189.14L538.71 189.7M535.37 181.9L539.82 181.9M547.05 187.18L564.33 187.18M547.05 192.94L564.33 192.94M579.69 180.46L579.69 198.7M580.65 178.54L580.65 198.7M580.65 178.54L570.09 192.94L585.45 192.94M576.81 198.7L583.53 198.7M591.21 182.38L592.17 183.34L591.21 184.3L590.25 183.34L590.25 182.38L591.21 180.46L592.17 179.5L595.05 178.54L598.89 178.54L601.77 179.5L602.73 180.46L603.69 182.38L603.69 184.3L602.73 186.22L599.85 188.14L595.05 190.06L593.13 191.02L591.21 192.94L590.25 195.82L590.25 198.7M598.89 178.54L600.81 179.5L601.77 180.46L602.73 182.38L602.73 184.3L601.77 186.22L598.89 188.14L595.05 190.06M590.25 196.78L591.21 195.82L593.13 195.82L597.93 197.74L600.81 197.74L602.73 196.78L603.69 195.82M593.13 195.82L597.93 198.7L601.77 198.7L602.73 197.74L603.69 195.82L603.69 193.9M610.41 190.06L627.69 190.06M643.05 180.46L643.05 198.7M644.01 178.54L644.01 198.7M644.01 178.54L633.45 192.94L648.81 192.94M640.17 198.7L646.89 198.7M654.57 182.38L655.53 183.34L654.57 184.3L653.61 183.34L653.61 182.38L654.57 180.46L655.53 179.5L658.41 178.54L662.25 178.54L665.13 179.5L666.09 181.42L666.09 184.3L665.13 186.22L662.25 187.18L659.37 187.18M662.25 178.54L664.17 179.5L665.13 181.42L665.13 184.3L664.17 186.22L662.25 187.18M662.25 187.18L664.17 188.14L666.09 190.06L667.05 191.98L667.05 194.86L666.09 196.78L665.13 197.74L662.25 198.7L658.41 198.7L655.53 197.74L654.57 196.78L653.61 194.86L653.61 193.9L654.57 192.94L655.53 193.9L654.57 194.86M665.13 189.1L666.09 191.98L666.09 194.86L665.13 196.78L664.17 197.74L662.25 198.7" fill="none" stroke="#f00" stroke-width="1.9" stroke-linecap="round" stroke-linejoin="round"/>
<path d="M584.02 234.36L584.02 252.6M584.98 232.44L584.98 252.6M584.98 232.44L574.42 246.84L589.78 246.84M581.14 252.6L587.86 252.6M595.54 236.28L596.5 237.24L595.54 238.2L594.58 237.24L594.58 236.28L595.54 234.36L596.5 233.4L599.38 232.44L603.22 232.44L606.1 233.4L607.06 235.32L607.06 238.2L606.1 240.12L603.22 241.08L600.34 241.08M603.22 232.44L605.14 233.4L606.1 235.32L606.1 238.2L605.14 240.12L603.22 241.08M603.22 241.08L605.14 242.04L607.06 243.96L608.02 245.88L608.02 248.76L607.06 250.68L606.1 251.64L603.22 252.6L599.38 252.6L596.5 251.64L595.54 250.68L594.58 248.76L594.58 247.8L595.54 246.84L596.5 247.8L595.54 248.76M606.1 243L607.06 245.88L607.06 248.76L606.1 250.68L605.14 251.64L603.22 252.6M614.74 243.96L632.02 243.96M647.38 234.36L647.38 252.6M648.34 232.44L648.34 252.6M648.34 232.44L637.78 246.84L653.14 246.84M644.5 252.6L651.22 252.6M666.58 234.36L666.58 252.6M667.54 232.44L667.54 252.6M667.54 232.44L656.98 246.84L672.34 246.84M663.7 252.6L670.42 252.6" fill="none" stroke="#00f" stroke-width="1.9" stroke-linecap="round" stroke-linejoin="round"/>
<path d="M584.02 287.86L584.02 306.1M584.98 285.94L584.98 306.1M584.98 285.94L574.42 300.34L589.78 300.34M581.14 306.1L587.86 306.1M603.22 287.86L603.22 306.1M604.18 285.94L604.18 306.1M604.18 285.94L593.62 300.34L608.98 300.34M600.34 306.1L607.06 306.1M614.74 297.46L632.02 297.46M647.38 287.86L647.38 306.1M648.34 285.94L648.34 306.1M648.34 285.94L637.78 300.34L653.14 300.34M644.5 306.1L651.22 306.1M659.86 285.94L657.94 295.54M657.94 295.54L659.86 293.62L662.74 292.66L665.62 292.66L668.5 293.62L670.42 295.54L671.38 298.42L671.38 300.34L670.42 303.22L668.5 305.14L665.62 306.1L662.74 306.1L659.86 305.14L658.9 304.18L657.94 302.26L657.94 301.3L658.9 300.34L659.86 301.3L658.9 302.26M665.62 292.66L667.54 293.62L669.46 295.54L670.42 298.42L670.42 300.34L669.46 303.22L667.54 305.14L665.62 306.1M659.86 285.94L669.46 285.94M659.86 286.9L664.66 286.9L669.46 285.94" fill="none" stroke="#f0f" stroke-width="1.9" stroke-linecap="round" stroke-linejoin="round"/>
<path d="M584.02 341.06L584.02 359.3M584.98 339.14L584.98 359.3M584.98 339.14L574.42 353.54L589.78 353.54M581.14 359.3L587.86 359.3M596.5 339.14L594.58 348.74M594.58 348.74L596.5 346.82L599.38 345.86L602.26 345.86L605.14 346.82L607.06 348.74L608.02 351.62L608.02 353.54L607.06 356.42L605.14 358.34L602.26 359.3L599.38 359.3L596.5 358.34L595.54 357.38L594.58 355.46L594.58 354.5L595.54 353.54L596.5 354.5L595.54 355.46M602.26 345.86L604.18 346.82L606.1 348.74L607.06 351.62L607.06 353.54L606.1 356.42L604.18 358.34L602.26 359.3M596.5 339.14L606.1 339.14M596.5 340.1L601.3 340.1L606.1 339.14M614.74 350.66L632.02 350.66M647.38 341.06L647.38 359.3M648.34 339.14L648.34 359.3M648.34 339.14L637.78 353.54L653.14 353.54M644.5 359.3L651.22 359.3M669.46 342.02L668.5 342.98L669.46 343.94L670.42 342.98L670.42 342.02L669.46 340.1L667.54 339.14L664.66 339.14L661.78 340.1L659.86 342.02L658.9 343.94L657.94 347.78L657.94 353.54L658.9 356.42L660.82 358.34L663.7 359.3L665.62 359.3L668.5 358.34L670.42 356.42L671.38 353.54L671.38 352.58L670.42 349.7L668.5 347.78L665.62 346.82L664.66 346.82L661.78 347.78L659.86 349.7L658.9 352.58M664.66 339.14L662.74 340.1L660.82 342.02L659.86 343.94L658.9 347.78L658.9 353.54L659.86 356.42L661.78 358.34L663.7 359.3M665.62 359.3L667.54 358.34L669.46 356.42L670.42 353.54L670.42 352.58L669.46 349.7L667.54 347.78L665.62 346.82" fill="none" stroke="#0f0" stroke-width="1.9" stroke-linecap="round" stroke-linejoin="round"/>
</svg>
</body></html>
